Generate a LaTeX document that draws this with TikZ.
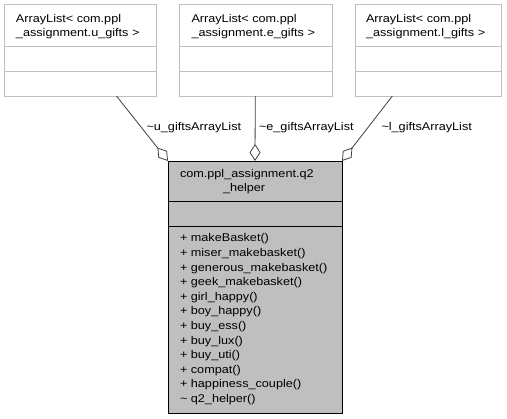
\documentclass[tikz,border=0pt]{standalone}
\usepackage{fontspec}
\setmainfont[FakeStretch=1.13]{Liberation Sans}
\usetikzlibrary{arrows.meta}
\definecolor{boxgray}{HTML}{BFBFBF}
\definecolor{edgegray}{HTML}{404040}
\tikzset{
  classtop/.style={draw=boxgray, line width=0.9pt, fill=white, inner sep=0pt, outer sep=0pt, anchor=north west},
  classmain/.style={draw=black, line width=0.9pt, fill=boxgray, inner sep=0pt, outer sep=0pt, anchor=north west},
  txt/.style={anchor=base west, inner sep=0pt, outer sep=0pt, font=\fontsize{11.2}{14}\selectfont, text=black},
  aggr/.style={draw=edgegray, line width=0.8pt, -{Diamond[open,length=17pt,width=11pt]}},
}
\begin{document}
\begin{tikzpicture}[x=1pt,y=-1pt]
\useasboundingbox (0,0) rectangle (507,419);
% top classes
\node[classtop, minimum width=152pt, minimum height=92pt] (u) at (4,4) {};
\node[classtop, minimum width=153pt, minimum height=92pt] (e) at (179,4) {};
\node[classtop, minimum width=146pt, minimum height=92pt] (l) at (355,4) {};
\foreach \n in {u,e,l}{
  \draw[boxgray, line width=0.9pt] ([yshift=-42pt]\n.north west) -- ([yshift=-42pt]\n.north east);
  \draw[boxgray, line width=0.9pt] ([yshift=-67pt]\n.north west) -- ([yshift=-67pt]\n.north east);
}
\node[txt] (ut1) at (16,22.5) {ArrayList< com.ppl};
\node[txt] (ut2) at (16,36.8) {\_assignment.u\_gifts >};
\node[txt] (et1) at (191.5,22.5) {ArrayList< com.ppl};
\node[txt] (et2) at (191.5,36.8) {\_assignment.e\_gifts >};
\node[txt] (lt1) at (366,22.5) {ArrayList< com.ppl};
\node[txt] (lt2) at (366,36.8) {\_assignment.l\_gifts >};
% main class
\node[classmain, minimum width=174pt, minimum height=252pt] (m) at (168,161) {};
\draw[black, line width=0.9pt] ([yshift=-40pt]m.north west) -- ([yshift=-40pt]m.north east);
\draw[black, line width=0.9pt] ([yshift=-65pt]m.north west) -- ([yshift=-65pt]m.north east);
\node[txt] (mt1) at (180,177.5) {com.ppl\_assignment.q2};
\node[txt] (mt2) at (223,192) {\_helper};
\foreach \s [count=\i from 0] in {+ makeBasket(), + miser\_makebasket(), + generous\_makebasket(), + geek\_makebasket(), + girl\_happy(), + boy\_happy(), + buy\_ess(), + buy\_lux(), + buy\_uti(), + compat(), + happiness\_couple(), \textasciitilde{} q2\_helper()}{
  \node[txt] (op\i) at (180,{242+\i*14.6}) {\s};
}
% connectors
\draw[aggr] (u) -- (m.north west);
\draw[aggr] (e) -- (m.north);
\draw[aggr] (l) -- (m.north east);
\node[txt] (lu) at (146.5,130.5) {\textasciitilde u\_giftsArrayList};
\node[txt] (le) at (259,130.5) {\textasciitilde e\_giftsArrayList};
\node[txt] (ll) at (381.5,130.5) {\textasciitilde l\_giftsArrayList};
\end{tikzpicture}
\end{document}
